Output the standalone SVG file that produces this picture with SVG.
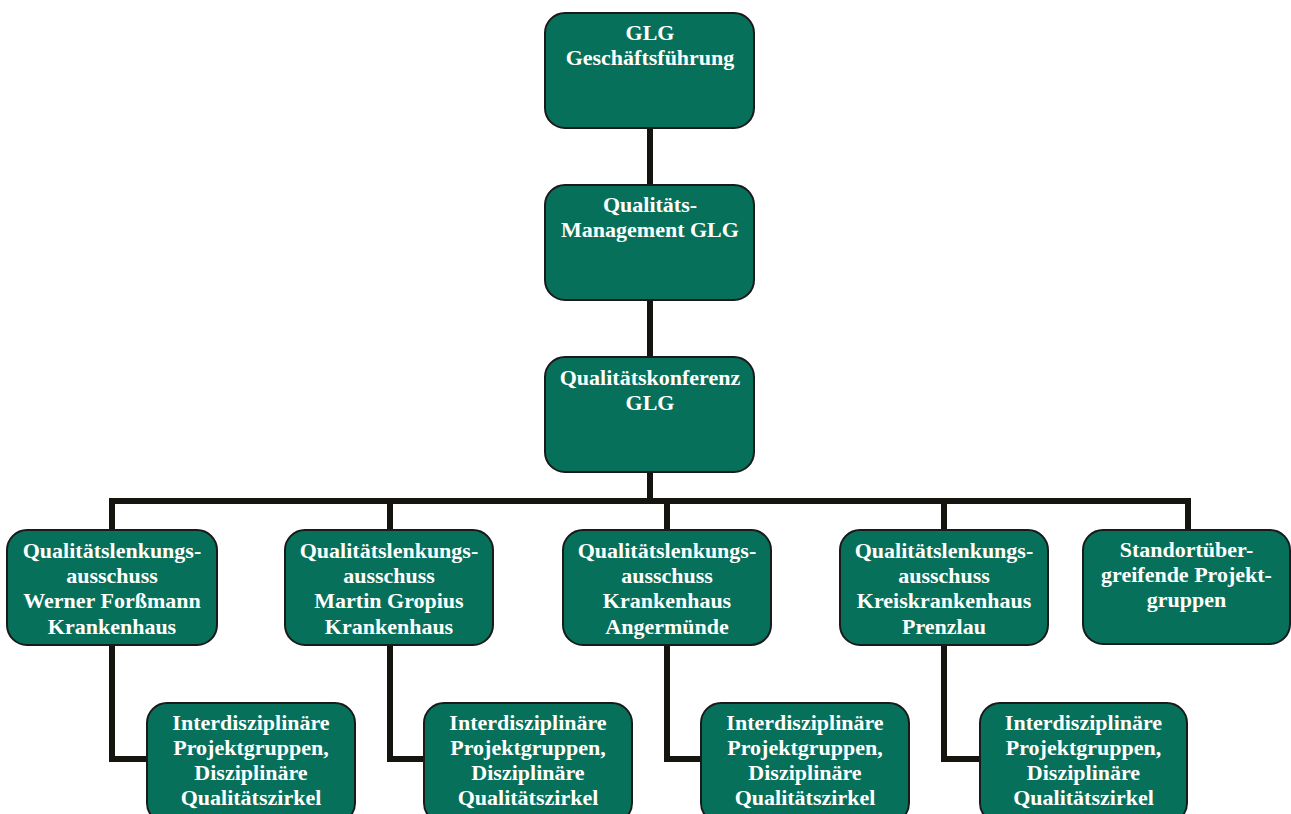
<svg xmlns="http://www.w3.org/2000/svg" width="1291" height="814" viewBox="0 0 1291 814">
<style>
.box{fill:#06705a;stroke:#1a1a1a;stroke-width:2}
.t{font-family:"Liberation Serif","Times New Roman",serif;font-weight:bold;font-size:22px;fill:#ffffff;text-anchor:middle}
.c{fill:none;stroke:#16140f;stroke-width:6;stroke-linecap:butt;stroke-linejoin:miter}
</style>
<rect width="1291" height="814" fill="#ffffff"/>
<g id="connectors">
<path class="c" d="M650 128V185M650 300V357M650 472V501"/>
<path class="c" d="M112 530V501H1188V530M390 501V530M667 501V530M944 501V530"/>
<path class="c" d="M112 645V759H147M390 645V759H424M667 645V759H701M944 645V759H980"/>
</g>
<g id="n-gf"><rect class="box" x="545" y="13" width="209" height="115" rx="20"/>
<text class="t" x="650" y="40">GLG</text><text class="t" x="650" y="65">Geschäftsführung</text></g>
<g id="n-qm"><rect class="box" x="545" y="185" width="209" height="115" rx="20"/>
<text class="t" x="650" y="212">Qualitäts-</text><text class="t" x="650" y="237">Management GLG</text></g>
<g id="n-qk"><rect class="box" x="545" y="357" width="209" height="115" rx="20"/>
<text class="t" x="650" y="385">Qualitätskonferenz</text><text class="t" x="650" y="410">GLG</text></g>
<g id="n-wf"><rect class="box" x="7" y="530" width="210" height="115" rx="20"/>
<text class="t" x="112" y="558">Qualitätslenkungs-</text><text class="t" x="112" y="583">ausschuss</text><text class="t" x="112" y="608">Werner Forßmann</text><text class="t" x="112" y="634">Krankenhaus</text></g>
<g id="n-mg"><rect class="box" x="285" y="530" width="208" height="115" rx="20"/>
<text class="t" x="389" y="558">Qualitätslenkungs-</text><text class="t" x="389" y="583">ausschuss</text><text class="t" x="389" y="608">Martin Gropius</text><text class="t" x="389" y="634">Krankenhaus</text></g>
<g id="n-ka"><rect class="box" x="563" y="530" width="208" height="115" rx="20"/>
<text class="t" x="667" y="558">Qualitätslenkungs-</text><text class="t" x="667" y="583">ausschuss</text><text class="t" x="667" y="608">Krankenhaus</text><text class="t" x="667" y="634">Angermünde</text></g>
<g id="n-kp"><rect class="box" x="840" y="530" width="208" height="115" rx="20"/>
<text class="t" x="944" y="558">Qualitätslenkungs-</text><text class="t" x="944" y="583">ausschuss</text><text class="t" x="944" y="608">Kreiskrankenhaus</text><text class="t" x="944" y="634">Prenzlau</text></g>
<g id="n-sp"><rect class="box" x="1083" y="530" width="207" height="114" rx="20"/>
<text class="t" x="1186.5" y="557">Standortüber-</text><text class="t" x="1186.5" y="582">greifende Projekt-</text><text class="t" x="1186.5" y="607">gruppen</text></g>
<g id="n-ip1"><rect class="box" x="147" y="703" width="208" height="120" rx="20"/>
<text class="t" x="251" y="730">Interdisziplinäre</text><text class="t" x="251" y="755">Projektgruppen,</text><text class="t" x="251" y="780">Disziplinäre</text><text class="t" x="251" y="805">Qualitätszirkel</text></g>
<g id="n-ip2"><rect class="box" x="424" y="703" width="208" height="120" rx="20"/>
<text class="t" x="528" y="730">Interdisziplinäre</text><text class="t" x="528" y="755">Projektgruppen,</text><text class="t" x="528" y="780">Disziplinäre</text><text class="t" x="528" y="805">Qualitätszirkel</text></g>
<g id="n-ip3"><rect class="box" x="701" y="703" width="208" height="120" rx="20"/>
<text class="t" x="805" y="730">Interdisziplinäre</text><text class="t" x="805" y="755">Projektgruppen,</text><text class="t" x="805" y="780">Disziplinäre</text><text class="t" x="805" y="805">Qualitätszirkel</text></g>
<g id="n-ip4"><rect class="box" x="980" y="703" width="207" height="120" rx="20"/>
<text class="t" x="1083.5" y="730">Interdisziplinäre</text><text class="t" x="1083.5" y="755">Projektgruppen,</text><text class="t" x="1083.5" y="780">Disziplinäre</text><text class="t" x="1083.5" y="805">Qualitätszirkel</text></g>
</svg>
